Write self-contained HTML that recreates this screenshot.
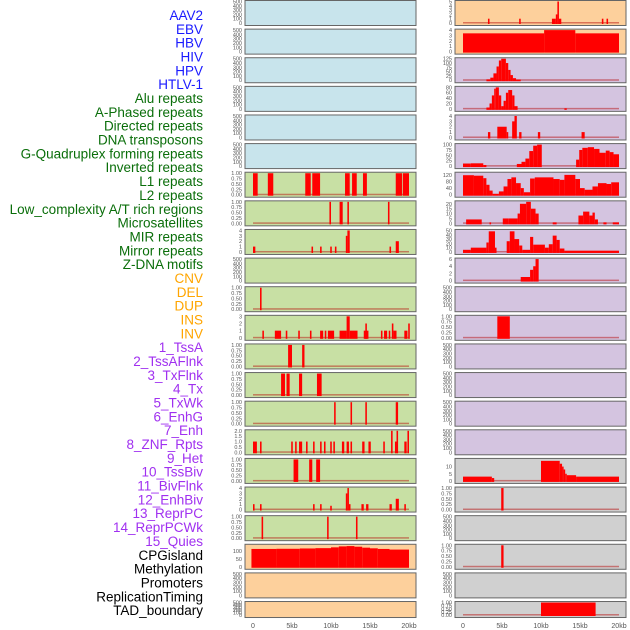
<!DOCTYPE html>
<html><head><meta charset="utf-8"><style>
body{margin:0;background:#fff;width:630px;height:630px;overflow:hidden}
svg{display:block}
</style></head><body>
<svg id="chart" width="630" height="630" xmlns="http://www.w3.org/2000/svg" font-family="Liberation Sans, sans-serif"></svg>
<script>
const labelNames = ["AAV2","EBV","HBV","HIV","HPV","HTLV-1","Alu repeats","A-Phased repeats","Directed repeats","DNA transposons","G-Quadruplex forming repeats","Inverted repeats","L1 repeats","L2 repeats","Low_complexity A/T rich regions","Microsatellites","MIR repeats","Mirror repeats","Z-DNA motifs","CNV","DEL","DUP","INS","INV","1_TssA","2_TssAFlnk","3_TxFlnk","4_Tx","5_TxWk","6_EnhG","7_Enh","8_ZNF_Rpts","9_Het","10_TssBiv","11_BivFlnk","12_EnhBiv","13_ReprPC","14_ReprPCWk","15_Quies","CPGisland","Methylation","Promoters","ReplicationTiming","TAD_boundary"];
const labelColors = ["#1a1aff","#1a1aff","#1a1aff","#1a1aff","#1a1aff","#1a1aff","#0a6e0a","#0a6e0a","#0a6e0a","#0a6e0a","#0a6e0a","#0a6e0a","#0a6e0a","#0a6e0a","#0a6e0a","#0a6e0a","#0a6e0a","#0a6e0a","#0a6e0a","#ffa500","#ffa500","#ffa500","#ffa500","#ffa500","#a030f0","#a030f0","#a030f0","#a030f0","#a030f0","#a030f0","#a030f0","#a030f0","#a030f0","#a030f0","#a030f0","#a030f0","#a030f0","#a030f0","#a030f0","#000","#000","#000","#000","#000"];
const xTicks = [0,5,10,15,20];
const xTickLabels = ["0","5kb","10kb","15kb","20kb"];
const T500=[0,100,200,300,400,500], T1=[0,0.25,0.5,0.75,1];
const leftBg = ["#c8e4ec","#c8e4ec","#c8e4ec","#c8e4ec","#c8e4ec","#c8e4ec","#c8e0a4","#c8e0a4","#c8e0a4","#c8e0a4","#c8e0a4","#c8e0a4","#c8e0a4","#c8e0a4","#c8e0a4","#c8e0a4","#c8e0a4","#c8e0a4","#c8e0a4","#fdd09c","#fdd09c","#fdd09c"];
const rightBg = ["#fdd09c","#fdd09c","#d4c4e0","#d4c4e0","#d4c4e0","#d4c4e0","#d4c4e0","#d4c4e0","#d4c4e0","#d4c4e0","#d4c4e0","#d4c4e0","#d4c4e0","#d4c4e0","#d4c4e0","#d4c4e0","#d0d0d0","#d0d0d0","#d0d0d0","#d0d0d0","#d0d0d0","#d0d0d0"];
const leftMax = [500,500,500,500,500,500,1,1,4,500,1,3,1,1,1,2,1,4,1,135,500,500];
const leftTicks = [T500,T500,T500,T500,T500,T500,T1,T1,[0,1,2,3,4],T500,T1,[0,1,2,3],T1,T1,T1,[0,0.5,1,1.5,2],T1,[0,1,2,3,4],T1,[0,50,100],T500,T500];
const rightMax = [5,4,125,80,4,100,130,22,50,6,500,1,500,500,500,500,15,1,500,1,500,1];
const rightTicks = [[0,1,2,3,4,5],[0,1,2,3,4],[0,25,50,75,100,125],[0,20,40,60,80],[0,1,2,3,4],[0,25,50,75,100],[0,40,80,120],[0,5,10,15,20],[0,10,20,30,40,50],[0,2,4,6],T500,T1,T500,T500,T500,T500,[0,5,10],T1,T500,T1,T500,T1];
// segments: [startKb, endKb, value]
const leftData = [[],[],[],[],[],[],
[[0,0.6,1],[1.9,2.6,1],[6.7,7.4,1],[7.6,8.6,1],[11.8,12.4,1],[12.7,13.3,1],[14.1,14.6,1],[18.3,19.1,1],[19.2,20,1]],
[[9.8,10,1],[11.1,11.5,1],[12.1,12.3,1],[17.3,17.5,1]],
[[0.0,0.3,1],[7.5,7.7,1],[8.6,8.8,1],[9.9,10.1,1],[10.5,10.7,1],[11.9,12.1,3],[12.1,12.4,4],[17.5,17.7,1],[18.3,18.7,2]],
[],
[[0.9,1.1,1]],
[[1.2,1.4,1],[2.8,3.6,1],[4.2,4.4,1],[5.8,6,1],[7.3,7.5,1],[8.6,9,1],[9.2,9.4,1],[9.6,10.4,1],[11.1,12,1],[12,12.4,3],[12.4,13.4,1],[14.2,14.8,1],[14.4,14.6,2],[16.4,16.6,1],[16.8,17.2,1],[17.4,17.6,1],[17.8,18,2],[18,18.4,1],[19.4,19.8,1],[19.9,20.1,2]],
[[4.5,5,1],[6.3,6.6,1]],
[[3.6,4.1,1],[4.3,4.7,1],[5.9,6.3,1],[8.2,8.8,1]],
[[10.4,10.6,1],[12.5,12.7,1],[14.4,14.6,1],[18.3,18.6,1]],
[[0,0.5,1],[0.9,1.1,1],[4.9,5.1,1],[5.4,5.6,1],[5.9,6.3,1],[6.8,7,1],[7.7,7.9,1],[8.6,8.8,1],[9.1,9.3,1],[9.9,10.1,1],[10.3,10.5,1],[11.4,11.7,1],[12,12.3,1],[12.5,12.7,1],[14,14.3,1],[14.8,15.1,1],[16.7,16.9,1],[17.7,17.9,2],[18.2,18.4,1],[18.4,18.6,2],[19.4,19.7,1],[19.8,20,2]],
[[5.2,5.8,1],[7.2,7.6,1],[8.1,8.6,1]],
[[0,0.2,1],[0.9,1.1,1],[7.7,7.9,1],[8.6,8.8,1],[9.9,10.1,0.7],[11.9,12.1,3],[12.1,12.3,4],[12.3,12.5,1],[13.9,14.2,1],[14.5,14.8,1],[17.5,17.8,1],[18.3,18.7,2],[19.4,19.6,1]],
[[1.1,1.3,1],[9.5,9.7,1],[13.2,13.4,1]],
[[-0.2,3,112],[3,6,113],[6,8,115],[8,10,117],[10,11,122],[11,12,128],[12,13,130],[13,14,126],[14,15,120],[15,16,116],[16,17.5,112],[17.5,20,108]],
[],[]];
const rightData = [
[[3.2,3.4,1],[7.2,7.4,1],[11.4,11.9,1],[11.9,12.1,2],[12.1,12.3,5],[12.3,12.6,1],[17.8,18,1],[18.4,18.6,1]],
[[0,10.4,3.4],[10.4,14.4,4],[14.4,20,3.4]],
[[3,3.5,5],[3.5,3.9,15],[3.9,4.3,40],[4.3,4.6,80],[4.6,4.9,115],[4.9,5.5,125],[5.5,5.8,100],[5.8,6.1,60],[6.1,6.4,30],[6.4,6.8,12],[6.8,7.4,4]],
[[3,3.4,5],[3.4,3.7,20],[3.7,4,50],[4,4.2,75],[4.2,4.6,80],[4.6,4.9,50],[4.9,5.2,10],[5.2,5.5,30],[5.5,5.8,60],[5.8,6.3,70],[6.3,6.6,50],[6.6,7,10],[13,13.3,2]],
[[3.2,3.5,1],[4.4,5.6,2],[5.6,5.8,1],[6.3,6.6,3],[6.6,6.9,4],[7.2,7.5,1],[9.6,9.9,1],[15.2,15.6,1]],
[[0,1,12],[1,2.6,13],[2.6,3,5],[6.9,7.5,10],[7.5,8,20],[8,8.5,35],[8.5,9,70],[9,9.5,95],[9.5,10.1,100],[14.5,14.9,30],[14.9,15.3,75],[15.3,16,85],[16,16.8,88],[16.8,17.5,80],[17.5,18.3,62],[18.3,18.8,72],[18.8,19.3,65],[19.3,20,55]],
[[0,1.4,118],[1.4,2.6,115],[2.6,3,100],[3,3.4,60],[3.4,3.8,25],[3.8,4.6,5],[4.6,5.2,20],[5.2,5.7,50],[5.7,6.2,95],[6.2,6.8,105],[6.8,7.4,70],[7.4,7.8,40],[7.8,8.6,15],[8.6,9.2,98],[9.2,11.6,105],[11.6,12.4,95],[12.4,13,90],[13,14.4,120],[14.4,15,95],[15,15.6,40],[15.6,16.6,30],[16.6,17.3,50],[17.3,18.4,70],[18.4,19,65],[19,20,75]],
[[0.4,2.4,4],[3.4,3.6,1],[5.1,5.8,5],[5.8,7,5],[7,7.3,10],[7.3,8.1,20],[8.1,8.7,22],[8.7,9.3,15],[9.3,9.7,10],[11.5,12,1],[14.8,15.4,8],[15.4,16.2,12],[16.2,16.6,8],[16.6,16.9,11],[16.9,17.3,4],[18,18.4,1],[19.2,20,1]],
[[0,1,5],[1,3,10],[3,3.3,22],[3.3,4.1,48],[4.1,4.3,10],[5.6,6,25],[6,6.6,48],[6.6,7.2,30],[7.2,7.6,15],[7.6,8.6,5],[8.6,9,35],[9,10.5,17],[10.5,11,10],[11,11.5,18],[11.5,12,38],[12,12.4,28],[12.4,13,8],[13,20,3]],
[[7.4,8.6,1],[8.6,9,3],[9,9.3,4],[9.3,9.7,6]],
[],
[[4.4,6,1]],
[],[],[],[],
[[0,3.7,3],[3.7,4,2],[10,12.4,14],[12.4,12.7,12],[12.7,12.9,10],[12.9,13.1,8],[13.1,13.3,5],[13.3,14.5,4],[14.5,20,3]],
[[4.9,5.2,1]],
[],
[[4.9,5.2,1]],
[],
[[10,17,1]]];

const svg = document.getElementById('chart');
const NS = 'http://www.w3.org/2000/svg';
function mk(tag, attrs, parent){const e=document.createElementNS(NS,tag);for(const k in attrs)e.setAttribute(k,attrs[k]);(parent||svg).appendChild(e);return e;}

// labels
labelNames.forEach((n,i)=>{
  const t = mk('text',{x:203,y:20+i*13.84,'text-anchor':'end','font-size':'13.5',fill:labelColors[i]});
  t.textContent = n;
  
  
});

function fmt(v,ticks){const mx=Math.max(...ticks); if(mx<=1) return v.toFixed(2); if(mx==2) return v.toFixed(1); return String(v);}

function panel(side, i, bg, maxV, ticks, segs){
  const px = side==='left'?245:455, pw=171;
  const top = 0.5 + i*28.62, h = i===21?16:25;
  const g = mk('g',{});
  
  
  mk('rect',{x:px,y:top,width:pw,height:h,fill:bg,stroke:'#666','stroke-width':1},g);
  const x0 = px+8, xs = 7.8;
  const xk = kb => x0 + kb*xs;
  const yb = top+h-2.5, yt = top+1;
  const yv = v => yb - (v/maxV)*(yb-yt);
  ticks.forEach(v=>{
    const t = mk('text',{x:px-3,y:yv(v)+2,'text-anchor':'end','font-size':'5.5',fill:'#555'},g);
    t.textContent = fmt(v,ticks);
    
    
  });
  if(segs.length){
    mk('rect',{x:xk(0),y:yb-1,width:20*xs,height:1.5,fill:'rgba(180,0,0,0.45)'},g);
  }
  segs.forEach(s=>{
    const a=Math.max(xk(s[0]),px+1), b=Math.min(xk(s[1]),px+pw-1);
    const r = mk('rect',{x:a,y:yv(s[2]),width:Math.max(b-a,1.2),height:yb-yv(s[2])+1,fill:'#ff0000'},g);
    
    
  });
}
for(let i=0;i<22;i++){
  panel('left',i,leftBg[i],leftMax[i],leftTicks[i],leftData[i]);
  panel('right',i,rightBg[i],rightMax[i],rightTicks[i],rightData[i]);
}
// x axes
['left','right'].forEach(side=>{
  const x0 = side==='left'?253:463;
  xTicks.forEach((k,j)=>{
    const t = mk('text',{x:x0+k*7.8,y:628,'text-anchor':'middle','font-size':'7',fill:'#555'});
    t.textContent = xTickLabels[j];
    
    
  });
});
</script>
</body></html>
